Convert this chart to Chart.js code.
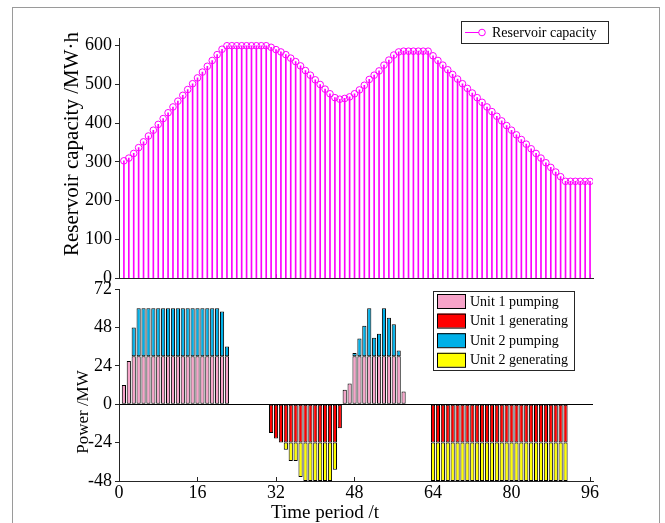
<!DOCTYPE html>
<html>
<head>
<meta charset="utf-8">
<script src="https://cdn.jsdelivr.net/npm/chart.js@4.4.1/dist/chart.umd.min.js"></script>
<style>
  body { margin: 0; background: #fff; width: 665px; height: 523px; overflow: hidden; position: relative; }
  #frame { position: absolute; left: 12px; top: 7px; width: 646px; height: 560px; border: 1px solid #9a9a9a; }
  #capChart { position: absolute; left: 0; top: 0; }
  #powChart { position: absolute; left: 0; top: 270px; }
</style>
</head>
<body>
<div id="frame"></div>
<canvas id="capChart" width="665" height="292"></canvas>
<canvas id="powChart" width="665" height="253"></canvas>
<script>
// time periods 1..96
const periods = [];
for (let t = 1; t <= 96; t++) periods.push(t);

const xTicks = [0, 16, 32, 48, 64, 80, 96];

// Reservoir capacity (MW·h), one value per period
const capacity = [
  303, 310, 322, 337, 352, 367, 382, 397, 412, 427,
  442, 457, 472, 487, 502, 517, 532, 547, 562, 577,
  591, 600, 600, 600, 600, 600, 600, 600, 600, 600,
  596, 590, 584, 577, 568, 559, 548, 536, 524, 512,
  500, 488, 476, 466, 462, 464, 468, 476, 486, 498,
  513, 524, 535, 550, 563, 576, 584, 586, 586, 586,
  586, 586, 586, 574, 562, 550, 538, 526, 514, 502,
  490, 478, 466, 454, 442, 430, 418, 406, 394, 382,
  370, 358, 346, 334, 322, 310, 298, 286, 274, 262,
  250, 250, 250, 250, 250, 250
];

// Power (MW), rows of 16 periods
const unit1Pumping = [
  12, 27, 30, 30, 30, 30, 30, 30, 30, 30, 30, 30, 30, 30, 30, 30,
  30, 30, 30, 30, 30, 30, 0, 0, 0, 0, 0, 0, 0, 0, 0, 0,
  0, 0, 0, 0, 0, 0, 0, 0, 0, 0, 0, 0, 0, 9, 13, 30,
  30, 30, 30, 30, 30, 30, 30, 30, 30, 8, 0, 0, 0, 0, 0, 0,
  0, 0, 0, 0, 0, 0, 0, 0, 0, 0, 0, 0, 0, 0, 0, 0,
  0, 0, 0, 0, 0, 0, 0, 0, 0, 0, 0, 0, 0, 0, 0, 0
];
const unit2Pumping = [
  0, 0, 18, 30, 30, 30, 30, 30, 30, 30, 30, 30, 30, 30, 30, 30,
  30, 30, 30, 30, 28, 6, 0, 0, 0, 0, 0, 0, 0, 0, 0, 0,
  0, 0, 0, 0, 0, 0, 0, 0, 0, 0, 0, 0, 0, 0, 0, 2,
  11, 19, 30, 11.5, 14, 30, 24, 20, 3.5, 0, 0, 0, 0, 0, 0, 0,
  0, 0, 0, 0, 0, 0, 0, 0, 0, 0, 0, 0, 0, 0, 0, 0,
  0, 0, 0, 0, 0, 0, 0, 0, 0, 0, 0, 0, 0, 0, 0, 0
];
const unit1Generating = [
  0, 0, 0, 0, 0, 0, 0, 0, 0, 0, 0, 0, 0, 0, 0, 0,
  0, 0, 0, 0, 0, 0, 0, 0, 0, 0, 0, 0, 0, 0, -18, -21.5,
  -24, -24, -24, -24, -24, -24, -24, -24, -24, -24, -24, -24, -15, 0, 0, 0,
  0, 0, 0, 0, 0, 0, 0, 0, 0, 0, 0, 0, 0, 0, 0, -24,
  -24, -24, -24, -24, -24, -24, -24, -24, -24, -24, -24, -24, -24, -24, -24, -24,
  -24, -24, -24, -24, -24, -24, -24, -24, -24, -24, -24, 0, 0, 0, 0, 0
];
const unit2Generating = [
  0, 0, 0, 0, 0, 0, 0, 0, 0, 0, 0, 0, 0, 0, 0, 0,
  0, 0, 0, 0, 0, 0, 0, 0, 0, 0, 0, 0, 0, 0, 0, 0,
  0, -4.5, -11.5, -11.5, -21.5, -24, -24, -24, -24, -24, -24, -17, 0, 0, 0, 0,
  0, 0, 0, 0, 0, 0, 0, 0, 0, 0, 0, 0, 0, 0, 0, -24,
  -24, -24, -24, -24, -24, -24, -24, -24, -24, -24, -24, -24, -24, -24, -24, -24,
  -24, -24, -24, -24, -24, -24, -24, -24, -24, -24, -24, 0, 0, 0, 0, 0
];

const seriesNames = ["Unit 1 pumping", "Unit 1 generating", "Unit 2 pumping", "Unit 2 generating"];
const seriesColors = ["#f7a3c9", "#ff0000", "#00b0e8", "#ffff00"];

const axisColor = "#262626";
const serif = '"Liberation Serif", "Times New Roman", serif';
Chart.defaults.font.family = serif;
Chart.defaults.font.size = 18;
Chart.defaults.color = "#000";

const toPoints = (arr) => periods.map((t, i) => ({ x: t, y: arr[i] === 0 ? null : arr[i] }));

// titles + boxed legends drawn on top of each chart
const overlay = {
  id: "overlay",
  afterDraw(chart, args, opts) {
    const ctx = chart.ctx;
    ctx.save();
    ctx.fillStyle = "#000";
    (opts.titles || []).forEach((t) => {
      ctx.save();
      ctx.font = t.size + "px " + serif;
      ctx.textAlign = "center";
      ctx.textBaseline = "middle";
      const x = t.value !== undefined ? chart.scales.x.getPixelForValue(t.value) : t.x;
      ctx.translate(x, t.y);
      ctx.rotate(t.rot || 0);
      ctx.fillText(t.text, 0, 0);
      ctx.restore();
    });
    const lg = opts.legend;
    if (lg) {
      ctx.fillStyle = "#fff";
      ctx.fillRect(lg.x, lg.y, lg.w, lg.h);
      ctx.strokeStyle = axisColor;
      ctx.lineWidth = 1;
      ctx.strokeRect(lg.x + 0.5, lg.y + 0.5, lg.w, lg.h);
      ctx.font = "14px " + serif;
      ctx.textAlign = "left";
      ctx.textBaseline = "middle";
      lg.items.forEach((it, i) => {
        const cy = lg.firstY + i * lg.rowH;
        if (lg.kind === "stem") {
          ctx.strokeStyle = it.color;
          ctx.beginPath();
          ctx.moveTo(lg.x + 4, cy);
          ctx.lineTo(lg.x + 18, cy);
          ctx.stroke();
          ctx.beginPath();
          ctx.arc(lg.x + 21, cy, 3.3, 0, Math.PI * 2);
          ctx.stroke();
        } else {
          ctx.fillStyle = it.color;
          ctx.fillRect(lg.x + 4.5, cy - 7, 28, 14);
          ctx.strokeStyle = "#000";
          ctx.strokeRect(lg.x + 4.5, cy - 6.5, 28, 14);
        }
        ctx.fillStyle = "#000";
        ctx.fillText(it.text, lg.x + lg.textX, cy + 1);
      });
    }
    ctx.restore();
  },
};

// Reservoir capacity stem plot
const capPoints = periods.map((t, i) => ({ x: t, y: capacity[i] }));
new Chart(document.getElementById("capChart"), {
  type: "bar",
  data: {
    datasets: [
      {
        type: "line",
        label: "Reservoir capacity",
        data: capPoints,
        showLine: false,
        pointRadius: 3.3,
        pointBorderWidth: 1,
        pointBorderColor: "#ff00ff",
        pointBackgroundColor: "rgba(0,0,0,0)",
        order: 0,
      },
      {
        type: "bar",
        label: "stems",
        data: capPoints,
        backgroundColor: "#ff00ff",
        barThickness: 1,
        order: 1,
      },
    ],
  },
  options: {
    responsive: false,
    animation: false,
    layout: { padding: { left: 0, right: 72, top: 38, bottom: 0 } },
    scales: {
      x: {
        type: "linear",
        offset: false,
        min: 0,
        max: 96.6,
        afterBuildTicks: (s) => { s.ticks = xTicks.map((v) => ({ value: v })); },
        afterFit: (s) => { s.height = 12; },
        ticks: { display: false },
        grid: { offset: false, drawOnChartArea: false, tickLength: -4, tickColor: axisColor },
        border: { color: axisColor },
      },
      y: {
        min: 0,
        max: 620,
        afterFit: (s) => { s.width = 119; },
        ticks: { stepSize: 100, includeBounds: false, padding: 3 },
        grid: { drawOnChartArea: false, tickLength: 4, tickColor: axisColor },
        border: { color: axisColor },
      },
    },
    plugins: {
      legend: { display: false },
      tooltip: { enabled: false },
      overlay: {
        titles: [{ text: "Reservoir capacity /MW·h", x: 72, y: 144, size: 21, rot: -Math.PI / 2 }],
        legend: {
          kind: "stem", x: 461, y: 21, w: 147, h: 22, firstY: 32.5, rowH: 0, textX: 31,
          items: [{ text: "Reservoir capacity", color: "#ff00ff" }],
        },
      },
    },
  },
  plugins: [overlay],
});

// Unit power stacked bars
const powerSeries = [unit1Pumping, unit1Generating, unit2Pumping, unit2Generating];
new Chart(document.getElementById("powChart"), {
  type: "bar",
  data: {
    datasets: powerSeries.map((arr, k) => ({
      label: seriesNames[k],
      data: toPoints(arr),
      backgroundColor: seriesColors[k],
      borderColor: "#000",
      borderWidth: 1,
      borderSkipped: false,
      categoryPercentage: 1,
      barPercentage: 0.85,
    })),
  },
  options: {
    responsive: false,
    animation: false,
    layout: { padding: { left: 0, right: 72, top: 19, bottom: 0 } },
    scales: {
      x: {
        type: "linear",
        stacked: true,
        offset: false,
        min: 0,
        max: 96.6,
        afterBuildTicks: (s) => { s.ticks = xTicks.map((v) => ({ value: v })); },
        afterFit: (s) => { s.height = 42; },
        ticks: { padding: 5, maxRotation: 0 },
        grid: { offset: false, drawOnChartArea: false, tickLength: -4, tickColor: axisColor },
        border: { color: axisColor },
      },
      y: {
        stacked: true,
        min: -48,
        max: 72,
        afterFit: (s) => { s.width = 119; },
        ticks: { stepSize: 24, padding: 3 },
        grid: {
          drawOnChartArea: true,
          color: (c) => (c.tick && c.tick.value === 0 ? "#000" : "rgba(0,0,0,0)"),
          tickLength: 4,
          tickColor: axisColor,
        },
        border: { color: axisColor },
      },
    },
    plugins: {
      legend: { display: false },
      tooltip: { enabled: false },
      overlay: {
        titles: [
          { text: "Power /MW", x: 84, y: 142, size: 17, rot: -Math.PI / 2 },
          { text: "Time period /t", value: 42, y: 243, size: 19 },
        ],
        legend: {
          kind: "bar", x: 433, y: 21, w: 141, h: 79, firstY: 31, rowH: 19.6, textX: 37,
          items: seriesNames.map((n, k) => ({ text: n, color: seriesColors[k] })),
        },
      },
    },
  },
  plugins: [overlay],
});
</script>
</body>
</html>
